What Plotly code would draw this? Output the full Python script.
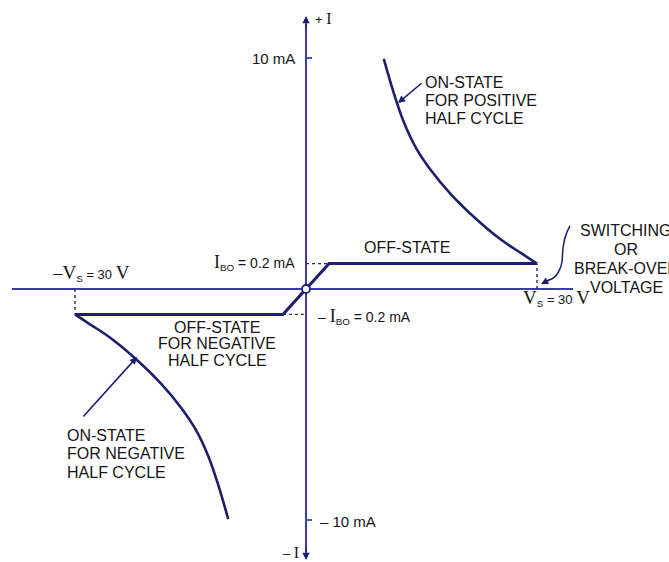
import plotly.graph_objects as go

# DIAC V-I characteristic (schematic, current step near origin not to scale)
vs = 30            # break-over voltage, V
ibo_label = 0.2    # break-over current written on the chart, mA
ibo_drawn = 1.1    # drawn height of the off-state step, mA
knee_v = 3.0       # voltage where the off-state step levels off
i_tick = 10        # mA tick on the current axis

off_v = [-vs, -knee_v, knee_v, vs]
off_i = [-ibo_drawn, -ibo_drawn, ibo_drawn, ibo_drawn]

on_v = [30.0, 27.9, 25.3, 22.1, 18.8, 16.2, 14.3, 12.7, 11.4, 10.1]
on_i = [1.1, 1.56, 2.14, 3.03, 4.11, 5.15, 6.10, 7.23, 8.48, 9.96]

W, H = 669, 562
X0, Y0 = 306, 289          # pixel position of the origin
SX, SY = 7.7, 23.1         # pixels per volt, pixels per mA

AXIS = "#3d3da8"
CURVE = "#1e1e6e"
TEXT = "#151515"
SANS = "Liberation Sans, Arial, sans-serif"
SERIF = "Liberation Serif, Times New Roman, serif"


def v(px):
    return (px - X0) / SX


def i(py):
    return (Y0 - py) / SY


def label(fig, text, x, y, anchor="left", size=16, font=SANS):
    fig.add_annotation(
        x=v(x), y=i(y), text=text, showarrow=False,
        xanchor=anchor, yanchor="middle",
        font={"family": font, "size": size, "color": TEXT},
    )


def pointer(fig, x, y, tx, ty, head=2):
    fig.add_annotation(
        x=v(x), y=i(y), ax=tx - x, ay=ty - y, text="",
        showarrow=True, arrowhead=head, arrowsize=0.9,
        arrowwidth=1.6, arrowcolor=CURVE,
    )


def big(t, size=19):
    return f"<span style='font-family:{SERIF};font-size:{size}px'>{t}</span>"


def small(t, size=13):
    return f"<span style='font-size:{size}px'>{t}</span>"


fig = go.Figure()

# off-state (both half cycles)
fig.add_trace(go.Scatter(
    x=off_v, y=off_i, mode="lines",
    line=dict(color=CURVE, width=3), hoverinfo="skip", showlegend=False,
))
# on-state positive / negative
fig.add_trace(go.Scatter(
    x=on_v, y=on_i, mode="lines",
    line=dict(color=CURVE, width=2.6, shape="spline", smoothing=1.0),
    hoverinfo="skip", showlegend=False,
))
fig.add_trace(go.Scatter(
    x=[-a for a in on_v], y=[-b for b in on_i], mode="lines",
    line=dict(color=CURVE, width=2.6, shape="spline", smoothing=1.0),
    hoverinfo="skip", showlegend=False,
))
# origin ring
fig.add_trace(go.Scatter(
    x=[0], y=[0], mode="markers",
    marker=dict(size=8, color="white", line=dict(color=CURVE, width=1.8)),
    hoverinfo="skip", showlegend=False,
))

# axes
fig.add_shape(type="line", x0=v(12), x1=v(573), y0=0, y1=0,
              line=dict(color=AXIS, width=2), layer="below")
fig.add_shape(type="line", x0=0, x1=0, y0=i(24), y1=i(552),
              line=dict(color=AXIS, width=2), layer="below")
pointer(fig, X0, 16, X0, 30)
pointer(fig, X0, 560, X0, 546)
for t in (i_tick, -i_tick):
    fig.add_shape(type="line", x0=0, x1=v(312), y0=t, y1=t,
                  line=dict(color=AXIS, width=1.8))

# dotted guides
dot = dict(color="#2a2a60", width=1.4, dash="dot")
fig.add_shape(type="line", x0=0, x1=knee_v, y0=ibo_drawn, y1=ibo_drawn, line=dot)
fig.add_shape(type="line", x0=-knee_v, x1=0, y0=-ibo_drawn, y1=-ibo_drawn, line=dot)
fig.add_shape(type="line", x0=vs, x1=vs, y0=0, y1=ibo_drawn, line=dot)
fig.add_shape(type="line", x0=-vs, x1=-vs, y0=0, y1=-ibo_drawn, line=dot)

# curly pointer to the break-over point
pts = [(570, 226), (561, 240), (562, 262), (557, 274), (549, 280)]
path = "M {} {} C {} {} {} {} {} {} S {} {} {} {}".format(
    v(pts[0][0]), i(pts[0][1]), v(pts[1][0]), i(pts[1][1]),
    v(pts[2][0] + 1), i(pts[2][1] - 6), v(pts[2][0]), i(pts[2][1]),
    v(pts[3][0]), i(pts[3][1] + 4), v(pts[4][0]), i(pts[4][1]),
)
fig.add_shape(type="path", path=path, line=dict(color=CURVE, width=1.5))
pointer(fig, 541, 284, 551, 279)

# on-state pointers
pointer(fig, 398, 103, 423, 82)
pointer(fig, 137, 357, 82, 418)

# labels
label(fig, small("+ ", 13) + big("I", 16), 313, 18)
label(fig, small("– ", 13) + big("I", 16), 301, 552, anchor="right")
label(fig, "10 mA", 297, 58, anchor="right", size=15)
label(fig, f"– {i_tick} mA", 318, 521, size=15)
label(fig, big("I", 18) + "<sub>BO</sub>" + small(f" = {ibo_label} mA", 14),
      297, 262, anchor="right", size=14)
label(fig, small("– ", 14) + big("I", 18) + "<sub>BO</sub>" + small(f" = {ibo_label} mA", 14),
      316, 316, size=14)
label(fig, big("–V", 19) + "<sub>S</sub>" + small(" = 30 ") + big("V", 19),
      50, 273, size=14)
label(fig, big("V", 19) + "<sub>S</sub>" + small(" = 30 ") + big("V", 19),
      521, 298, size=14)

label(fig, "OFF-STATE", 362, 247)
for k, line in enumerate(["OFF-STATE", "FOR NEGATIVE", "HALF CYCLE"]):
    label(fig, line, 217, 327 + 16.5 * k, anchor="center")
for k, line in enumerate(["ON-STATE", "FOR POSITIVE", "HALF CYCLE"]):
    label(fig, line, 423, 82 + 18 * k)
for k, line in enumerate(["ON-STATE", "FOR NEGATIVE", "HALF CYCLE"]):
    label(fig, line, 65, 435 + 18.5 * k)
for k, line in enumerate(["SWITCHING", "OR", "BREAK-OVER", "VOLTAGE"]):
    label(fig, line, 626, 230 + 19 * k, anchor="center")

fig.update_layout(
    width=W, height=H,
    margin=dict(l=0, r=0, t=0, b=0),
    paper_bgcolor="white", plot_bgcolor="white",
    xaxis=dict(range=[v(0), v(W)], visible=False, fixedrange=True),
    yaxis=dict(range=[i(H), i(0)], visible=False, fixedrange=True),
    showlegend=False,
)

# page body margin would otherwise shift the figure by 8 px
fig.write_html("out.html", config={"displayModeBar": False},
               post_script="document.body.style.margin='0';")
